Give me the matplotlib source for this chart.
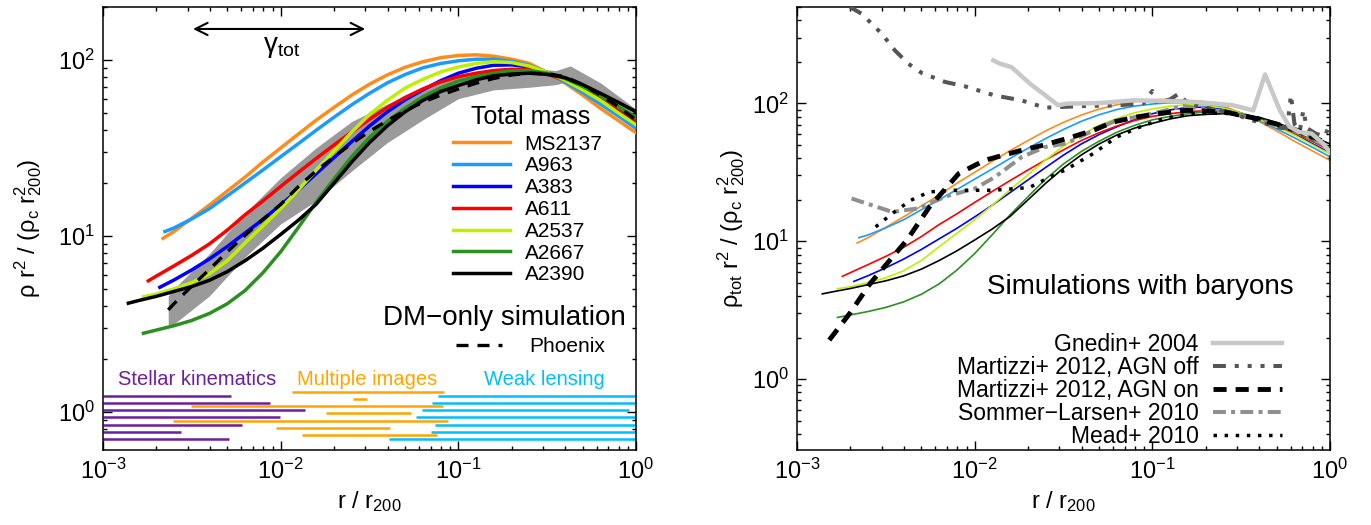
import matplotlib
matplotlib.use('Agg')
import matplotlib.pyplot as plt

plt.rcParams['font.family'] = ['Liberation Sans', 'DejaVu Sans']
plt.rcParams['mathtext.default'] = 'regular'

# ---- total mass profiles (rho r^2 / rho_c r200^2) ----
r_grid = [0.00158, 0.002, 0.00251, 0.00316, 0.00398, 0.00501, 0.00631, 0.00794, 0.01,
          0.0126, 0.0158, 0.02, 0.0251, 0.0316, 0.0398, 0.0501, 0.0631, 0.0794, 0.1,
          0.126, 0.158, 0.2, 0.251, 0.316, 0.398, 0.501, 0.631, 0.794, 1.0]

clusters = ['MS2137', 'A963', 'A383', 'A611', 'A2537', 'A2667', 'A2390']
colors = ['#ff8c1a', '#1a9cff', '#0000ff', '#ff0000', '#c0f000', '#2a9020', '#000000']
r_min = [0.00218, 0.00223, 0.00209, 0.0018, 0.00169, 0.00169, 0.00139]
prof_min = [9.70, 10.6, 5.11, 5.56, 4.52, 2.80, 4.15]
prof_ms2137 = [10.6, 12.6, 15.0, 18.0, 21.6, 26.3, 31.6, 38.0, 45.4, 53.8, 63.1, 72.8, 82.2,
               90.8, 97.7, 103, 106, 107, 105, 101, 95.5, 85.1, 74.1, 63.1, 53.1, 45.3, 38.6]
prof_a963 = [11.1, 12.5, 14.3, 16.9, 20.0, 23.7, 28.2, 33.5, 39.8, 47.3, 55.6, 64.6, 74.1,
             82.6, 90.2, 95.5, 98.9, 101, 101, 98.2, 93.3, 84.3, 75.0, 65.3, 56.2, 48.1, 40.9]
prof_a383 = [5.62, 6.41, 7.41, 8.71, 10.4, 12.4, 15.0, 18.3, 22.5, 27.9, 34.3, 42.1, 50.7,
             59.3, 67.6, 76.2, 84.1, 89.7, 93.3, 93.8, 91.2, 85.1, 77.6, 68.4, 59.6, 51.1, 43.7]
prof_a611 = [5.92, 6.76, 7.76, 9.02, 10.8, 13.2, 15.8, 19.1, 23.0, 27.5, 32.9, 38.9, 46.0,
             53.7, 61.2, 68.4, 75.0, 80.4, 84.1, 87.1, 88.5, 88.1, 83.2, 76.7, 69.2, 61.0,
             53.1, 45.6]
prof_a2537 = [4.68, 5.01, 5.43, 6.10, 7.24, 9.12, 11.4, 14.3, 18.3, 23.6, 30.4, 38.9, 49.0,
              58.9, 69.2, 77.6, 85.5, 91.2, 95.5, 97.7, 96.6, 92.3, 85.1, 76.7, 67.6, 58.9,
              50.1, 42.8]
prof_a2667 = [2.92, 3.09, 3.31, 3.63, 4.12, 4.90, 6.17, 8.13, 11.2, 15.5, 21.1, 28.2, 36.3,
              44.7, 53.1, 61.7, 69.2, 75.9, 80.4, 84.1, 86.7, 87.1, 84.1, 78.5, 70.8, 62.4,
              54.3, 47.2]
prof_a2390 = [4.29, 4.54, 4.84, 5.16, 5.60, 6.27, 7.24, 8.51, 10.2, 12.3, 15.1, 20.0, 26.3,
              33.9, 42.2, 50.7, 58.9, 66.1, 71.6, 77.1, 81.3, 83.2, 84.1, 82.8, 79.4, 72.4,
              64.6, 57.5, 50.8]
profiles = [prof_ms2137, prof_a963, prof_a383, prof_a611, prof_a2537, prof_a2667, prof_a2390]

# Phoenix DM-only (median and scatter)
phx_rmin, phx_min = 0.00233, 3.80
prof_phoenix = [4.12, 5.19, 6.46, 8.13, 10.1, 12.4, 15.1, 19.1, 23.4, 28.2, 33.5, 39.2, 45.2,
                51.3, 57.5, 63.1, 68.4, 73.8, 78.5, 82.2, 84.1, 83.6, 80.4, 72.4, 63.1, 54.3,
                45.7]
band_r = [0.00233, 0.00251, 0.00398, 0.00631, 0.01, 0.0158, 0.0251, 0.0398, 0.0631,
          0.1, 0.158, 0.251, 0.355, 0.427, 0.631, 1.0]
band_hi = [4.57, 5.01, 7.94, 13.5, 21.4, 31.6, 44.7, 56.2, 69.2, 81.3, 87.1, 89.1, 87.1, 92.5, 74.1, 52.5]
band_lo = [3.02, 3.16, 4.57, 7.59, 11.7, 15.8, 23.4, 33.9, 45.7, 60.3, 67.6, 70.0, 72.4, 75.9, 63.1, 43.7]

# radial ranges of the data sets
row_y = [1.238, 1.129, 1.027, 0.933, 0.847, 0.773, 0.703]
kin_lo = [0.001, 0.001, 0.001, 0.001, 0.001, 0.001, 0.001]
kin_hi = [0.00525, 0.00866, 0.01365, 0.00995, 0.00603, 0.00275, 0.00515]
wl_lo = [0.0771, 0.0708, 0.0621, 0.0577, 0.0738, 0.0701, 0.0407]
wl_hi = [1.0, 1.0, 0.916, 1.0, 1.0, 1.0, 1.0]
mi_y = [1.304, 1.186, 1.077, 0.983, 0.892, 0.811, 0.737]
mi_lo = [0.01155, 0.0254, 0.00312, 0.01795, 0.00247, 0.00937, 0.01315]
mi_hi = [0.0830, 0.0308, 0.0822, 0.0542, 0.0877, 0.0414, 0.0755]

# ---- simulations with baryons ----
gnedin_r = [0.01274, 0.01387, 0.01614, 0.02046, 0.02432, 0.02951, 0.03296, 0.0507, 0.0782,
            0.1202, 0.1854, 0.285, 0.370, 0.431, 0.522, 0.594, 0.676, 0.787, 0.916, 1.0]
gnedin_p = [205, 194, 183, 139, 117.5, 96.8, 99.5, 100.5, 105.2, 104, 102, 96.8, 88.9,
            162, 88.9, 67.3, 61.9, 60.3, 51.0, 44.0]
agnoff_r = [0.00199, 0.00231, 0.0030, 0.00356, 0.00423, 0.00504, 0.00681, 0.00881, 0.0130,
            0.0184, 0.0249, 0.0398, 0.0631, 0.0891, 0.1, 0.107, 0.126, 0.141, 0.158, 0.2,
            0.282, 0.355, 0.447, 0.537, 0.575, 0.603, 0.631, 0.676, 0.708, 0.741, 0.832,
            0.933, 1.0]
agnoff_p = [499, 447, 320, 242, 194, 166, 143, 133, 114, 105, 93, 95.5, 96.6, 100, 123,
            100, 107, 117.5, 100, 93.3, 85.1, 75.9, 70.8, 66.1, 67.6, 115, 70.8, 63.1,
            89.1, 66.1, 60.3, 57.5, 70.8]
agnon_r = [0.00152, 0.00198, 0.00258, 0.00416, 0.00556, 0.00815, 0.0114, 0.0178, 0.0243,
           0.0344, 0.0465, 0.0603, 0.0817, 0.1057, 0.156, 0.251, 0.355, 0.501, 0.708, 1.0]
agnon_p = [1.92, 2.99, 4.93, 10.2, 17.7, 31.0, 38.6, 45.2, 49.7, 56.4, 63.7, 73.3, 79.6,
           84.1, 88.9, 87.1, 79.4, 70.8, 61.7, 50.1]
sommer_r = [0.00203, 0.00344, 0.0048, 0.00695, 0.01005, 0.0130, 0.0184, 0.0249, 0.0327,
            0.0446, 0.0630, 0.0891, 0.149, 0.251, 0.398, 0.631, 1.0]
sommer_p = [20.4, 16.3, 17.3, 21.2, 24.1, 29.2, 40.8, 48.2, 51.1, 61.9, 75.3, 81.3, 95.5,
            87.1, 75.9, 63.1, 47.9]
mead_r = [0.00277, 0.00344, 0.00437, 0.00556, 0.00776, 0.01253, 0.0203, 0.0251, 0.0327,
          0.0465, 0.0630, 0.0851, 0.1153, 0.163, 0.251, 0.398, 0.631, 1.0]
mead_p = [12.7, 15.9, 19.8, 22.8, 23.4, 23.4, 24.5, 28.2, 33.1, 43.2, 57.0, 67.3, 77.4,
          84.1, 85.1, 77.6, 63.1, 50.1]


def cluster_curve(rmin, pmin, prof):
    rr = [g for g in r_grid if g > rmin]
    return [rmin] + rr, [pmin] + list(prof)


def style_axis(ax, ymin, ymax):
    ax.set_xscale('log')
    ax.set_yscale('log')
    ax.set_xlim(1e-3, 1.0)
    ax.set_ylim(ymin, ymax)
    ax.tick_params(which='both', direction='in', top=True, right=True, width=1.0, labelsize=17)
    ax.tick_params(which='major', length=6.5, pad=6)
    ax.tick_params(which='minor', length=3.2)
    for s in ax.spines.values():
        s.set_linewidth(1.1)
    ax.set_xlabel('r / r$_{200}$', fontsize=17, labelpad=4)


fig = plt.figure(figsize=(13.71, 5.25), dpi=100)
ax1 = fig.add_axes([0.0751, 0.1429, 0.3888, 0.8438])
ax2 = fig.add_axes([0.5813, 0.1429, 0.3888, 0.8438])

# ---------------- left panel ----------------
ax1.fill_between(band_r, band_lo, band_hi, color='#9a9a9a', lw=0, zorder=1)
ax1.hlines(row_y, kin_lo, kin_hi, color='#6b1fa0', lw=1.8, zorder=2)
ax1.hlines(row_y, wl_lo, wl_hi, color='#00bfff', lw=1.8, zorder=2)
ax1.hlines(mi_y, mi_lo, mi_hi, color='#ffa500', lw=1.8, zorder=2)

handles = []
for name, c, rmin, pmin, prof in zip(clusters, colors, r_min, prof_min, profiles):
    rr, pp = cluster_curve(rmin, pmin, prof)
    h, = ax1.plot(rr, pp, color=c, lw=2.5, zorder=3)
    handles.append(h)
    ax2.plot(rr, pp, color=c, lw=1.2, zorder=2)

rr, pp = cluster_curve(phx_rmin, phx_min, prof_phoenix)
hphx, = ax1.plot(rr, pp, color='k', lw=2.4, ls=(0, (3.6, 2.7)), zorder=4)

style_axis(ax1, 0.608, 200)
ax1.set_ylabel('ρ r$^2$ / (ρ$_c$ r$^2_{200}$)', fontsize=17, labelpad=10)

ax1.text(0.803, 0.7517, 'Total mass', transform=ax1.transAxes, fontsize=18,
         ha='center', va='center')
leg1 = ax1.legend(handles, clusters, fontsize=15,
                  loc='upper left', bbox_to_anchor=(0.656, 0.712), frameon=False,
                  handlelength=2.75, handletextpad=0.7, labelspacing=0.135,
                  borderpad=0, borderaxespad=0)
ax1.add_artist(leg1)
ax1.legend([hphx], ['Phoenix'], fontsize=15, loc='upper left', bbox_to_anchor=(0.662, 0.255),
           frameon=False, handlelength=2.2, handletextpad=1.3, borderpad=0, borderaxespad=0)
ax1.text(0.7523, 0.298, 'DM−only simulation', transform=ax1.transAxes, fontsize=20,
         ha='center', va='center')

ax1.annotate('', xy=(0.031, 150), xytext=(0.0031, 150),
             arrowprops=dict(arrowstyle='<->', lw=1.5, color='k', mutation_scale=22))
ax1.text(0.0102, 118, 'γ$_{tot}$', fontsize=20, ha='center', va='center')

ax1.text(0.176, 0.158, 'Stellar kinematics', transform=ax1.transAxes, fontsize=14.5,
         color='#6b1fa0', ha='center', va='center')
ax1.text(0.495, 0.158, 'Multiple images', transform=ax1.transAxes, fontsize=14.5,
         color='#ffa500', ha='center', va='center')
ax1.text(0.829, 0.158, 'Weak lensing', transform=ax1.transAxes, fontsize=14.5,
         color='#00bfff', ha='center', va='center')

# ---------------- right panel ----------------
h1, = ax2.plot(gnedin_r, gnedin_p, color='#c8c8c8', lw=3.2, zorder=5)
h2, = ax2.plot(agnoff_r, agnoff_p, color='#555555', lw=2.9,
               ls=(0, (3.2, 2.2, 1, 2.2, 1, 2.2, 1, 2.2)), zorder=4)
h3, = ax2.plot(agnon_r, agnon_p, color='k', lw=3.5, ls=(0, (2.7, 1.85)), zorder=4)
h4, = ax2.plot(sommer_r, sommer_p, color='#8f8f8f', lw=2.9, ls=(0, (3.2, 1.3, 1, 1.3)), zorder=3)
h5, = ax2.plot(mead_r, mead_p, color='k', lw=2.5, ls=(0, (1, 2.2)), zorder=3)

style_axis(ax2, 0.306, 500)
ax2.set_ylabel('ρ$_{tot}$ r$^2$ / (ρ$_c$ r$^2_{200}$)', fontsize=17, labelpad=3)

ax2.legend([h1, h2, h3, h4, h5],
           ['Gnedin+ 2004', 'Martizzi+ 2012, AGN off', 'Martizzi+ 2012, AGN on',
            'Sommer−Larsen+ 2010', 'Mead+ 2010'],
           fontsize=16.5, loc='upper right', bbox_to_anchor=(0.91, 0.265), frameon=False,
           markerfirst=False, handlelength=3.0, handletextpad=0.63, labelspacing=0.0,
           borderpad=0, borderaxespad=0)
ax2.text(0.931, 0.368, 'Simulations with baryons', transform=ax2.transAxes, fontsize=20,
         ha='right', va='center')

fig.savefig('out.png', dpi=100)
